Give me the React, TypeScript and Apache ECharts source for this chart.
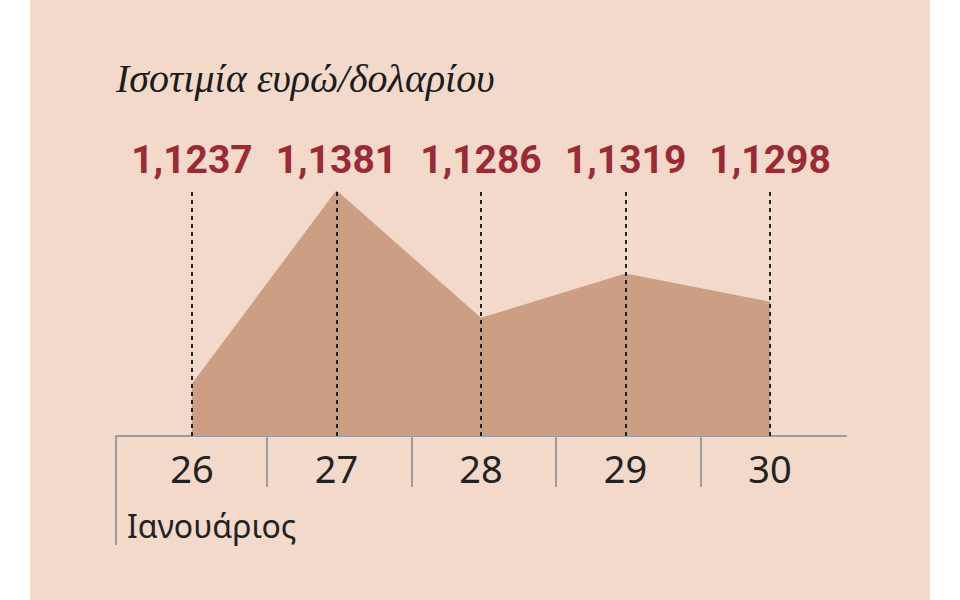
import { useEffect, useRef } from 'react';
import * as echarts from 'echarts';
import type { EChartsOption } from 'echarts';

// Ισοτιμία ευρώ/δολαρίου, 26-30 Ιανουαρίου
const days = [26, 27, 28, 29, 30];
const rates = [1.1237, 1.1381, 1.1286, 1.1319, 1.1298];
const separators = [26.52, 27.52, 28.52, 29.52];

const fmtRate = (v: number) => v.toFixed(4).replace('.', ',');

export default function App() {
  const chartRef = useRef<HTMLDivElement>(null);

  useEffect(() => {
    if (!chartRef.current) return;
    const chart = echarts.init(chartRef.current, undefined, { renderer: 'svg' });

    const option: EChartsOption = {
      animation: false,
      backgroundColor: '#f2d9ca',
      title: [
        {
          text: 'Ισοτιμία ευρώ/δολαρίου',
          left: 86,
          top: 58,
          padding: 0,
          textStyle: {
            fontFamily: 'Liberation Serif',
            fontStyle: 'italic',
            fontWeight: 'normal',
            fontSize: 40,
            color: '#1c1c1c',
          },
        },
        {
          text: 'Ιανουάριος',
          left: 97,
          top: 509,
          padding: 0,
          textStyle: {
            fontFamily: 'Noto Sans',
            fontWeight: 'normal',
            fontSize: 32,
            color: '#222',
          },
        },
      ],
      grid: { left: 86, right: 84, top: 189, bottom: 164 },
      xAxis: [
        {
          type: 'value',
          position: 'bottom',
          min: 25.475,
          max: 30.525,
          axisLine: { show: true, lineStyle: { color: '#9c9c9c', width: 2 } },
          axisTick: {
            show: true,
            length: 51,
            customValues: separators,
            lineStyle: { color: '#9c9c9c', width: 2 },
          },
          axisLabel: {
            customValues: days,
            margin: 13,
            fontFamily: 'Noto Sans',
            fontSize: 38,
            color: '#222',
            formatter: (v: number) => String(v),
          },
          splitLine: { show: false },
        },
        {
          type: 'value',
          position: 'top',
          min: 25.475,
          max: 30.525,
          axisLine: { show: false },
          axisTick: { show: false },
          axisLabel: {
            customValues: days,
            margin: 10,
            fontFamily: 'Roboto',
            fontWeight: 'bold',
            fontSize: 39,
            color: '#9a2b35',
            formatter: (v: number) => {
              const i = days.indexOf(Math.round(v));
              return i >= 0 ? fmtRate(rates[i]) : '';
            },
          },
          splitLine: { show: false },
        },
      ],
      yAxis: {
        type: 'value',
        min: 1.1198,
        max: 1.1382,
        show: false,
        splitLine: { show: false },
      },
      graphic: [
        {
          type: 'line',
          shape: { x1: 86, y1: 436, x2: 86, y2: 545 },
          style: { stroke: '#9c9c9c', lineWidth: 2 },
        },
      ],
      series: [
        {
          type: 'line',
          data: days.map((d, i) => [d, rates[i]]),
          showSymbol: false,
          lineStyle: { width: 0 },
          areaStyle: { color: '#cc9e84', opacity: 1, origin: 'start' },
          silent: true,
          markLine: {
            silent: true,
            symbol: 'none',
            label: { show: false },
            lineStyle: { color: '#222', width: 2, type: [4, 4] },
            data: days.map((d) => ({ xAxis: d })),
          },
        },
      ],
    };

    chart.setOption(option);

    return () => {
      chart.dispose();
    };
  }, []);

  return (
    <div style={{ position: 'fixed', left: 0, top: 0, width: 960, height: 600, background: '#fff' }}>
      <div ref={chartRef} style={{ position: 'absolute', left: 30, top: 0, width: 900, height: 600 }} />
    </div>
  );
}
